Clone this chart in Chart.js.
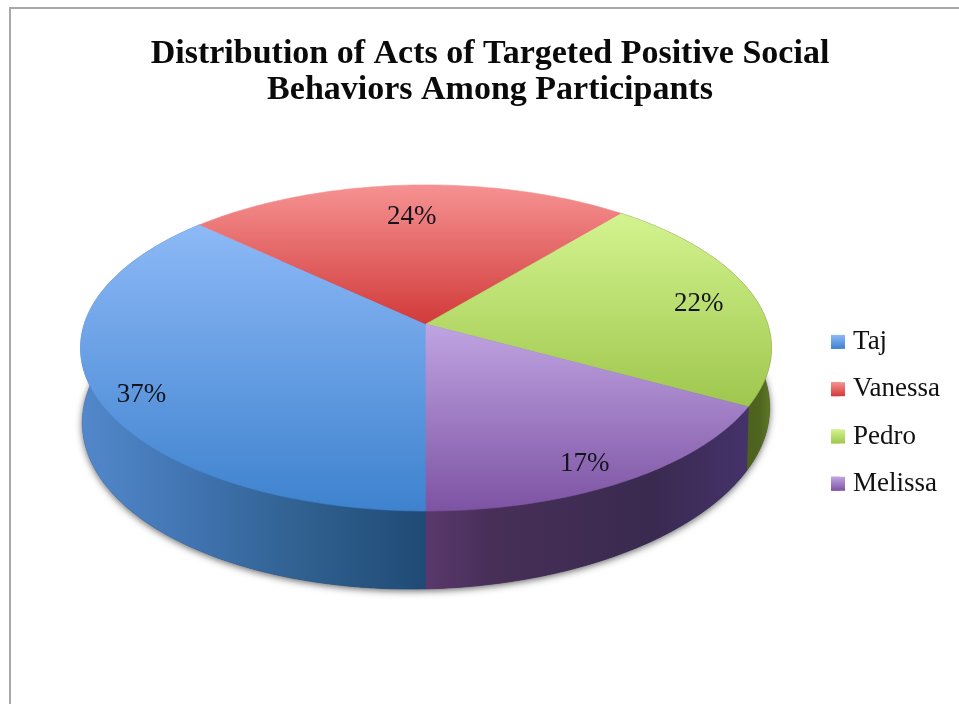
<!DOCTYPE html>
<html>
<head>
<meta charset="utf-8">
<style>
html,body{margin:0;padding:0;background:#fff;overflow:hidden}
#frame{position:absolute;left:9px;top:7px;width:960px;height:710px;border-top:2px solid #a9a9a9;border-left:2px solid #a9a9a9}
canvas{position:absolute;left:0;top:0}
</style>
<script src="https://cdn.jsdelivr.net/npm/chart.js@4"></script>
</head>
<body>
<div id="frame"></div>
<canvas id="c" width="959" height="704"></canvas>
<script>
const categories = ['Taj', 'Vanessa', 'Pedro', 'Melissa'];
const values = [37, 24, 22, 17];
const titleLines = ['Distribution of Acts of Targeted Positive Social', 'Behaviors Among Participants'];

const legendColors = ['#5b9ae2', '#e05a5a', '#b5dc6c', '#a182d0'];
const faceTop = ['#8db9f7', '#f69292', '#d3f38f', '#c0a4e2'];
const faceBottom = ['#3e82ce', '#d23a3a', '#9fc74d', '#7d53a3'];
const wallStops = [
  [[0, '#5288cb'], [0.35, '#3f72ae'], [0.65, '#30608f'], [1, '#1f4a75']],
  [[0, '#b04040'], [1, '#b04040']],
  [[0, '#4a5f1b'], [0.6, '#4f6520'], [1, '#5f7a26']],
  [[0, '#5a386c'], [0.2, '#472f58'], [0.7, '#3a2a50'], [1, '#44326a']]
];
const labelNudge = [[-4, 14], [2, 13], [-6, 5], [-7, 9]];

const topRim = {cx: 426, cy: 324, a: 341.7, b: 159.5, tilt: 0};
const baseRim = {cx: 426, cy: 389.6, a: 340, b: 170, tilt: 0.022};
const K = 0.147;
const LABEL_R = 0.85;
const SERIF = '"Liberation Serif", serif';

function project(theta, r, P) {
  const u = Math.cos(theta) * r, v = -Math.sin(theta) * r;
  const w = 1 + K * v;
  const x = P.cx + P.a * u / w;
  return [x, P.cy - P.b * v / w - P.tilt * (x - P.cx)];
}
function samples(a0, a1, P) {
  const pts = [], n = Math.max(8, Math.ceil((a1 - a0) * 60));
  for (let i = 0; i <= n; i++) pts.push(project(a0 + (a1 - a0) * i / n, 1, P));
  return pts;
}
function trace(ctx, pts) {
  pts.forEach((p, i) => i ? ctx.lineTo(p[0], p[1]) : ctx.moveTo(p[0], p[1]));
}
function trace2(ctx, pts) { pts.forEach(p => ctx.lineTo(p[0], p[1])); }

const pie3d = {
  id: 'pie3d',
  beforeDatasetDraw(chart, args) {
    const ctx = chart.ctx, arcs = args.meta.data;
    ctx.save();
    ctx.save();
    ctx.shadowColor = 'rgba(40,40,40,0.7)';
    ctx.shadowBlur = 7;
    ctx.shadowOffsetY = 2;
    ctx.fillStyle = '#3a2a50';
    ctx.beginPath();
    trace(ctx, samples(0, Math.PI * 2, baseRim));
    ctx.closePath();
    ctx.fill();
    ctx.restore();
    arcs.forEach((arc, i) => {
      if (i === 1) return;
      const top = samples(arc.startAngle, arc.endAngle, topRim);
      const base = samples(arc.startAngle, arc.endAngle, baseRim).reverse();
      const all = top.concat(base);
      const front = all.filter(p => p[1] > 340).map(p => p[0]);
      const g = ctx.createLinearGradient(Math.min(...front), 0, Math.max(...front), 0);
      wallStops[i].forEach(s => g.addColorStop(s[0], s[1]));
      ctx.fillStyle = g;
      ctx.strokeStyle = g;
      ctx.lineWidth = 0.6;
      ctx.beginPath();
      trace(ctx, all);
      ctx.closePath();
      ctx.fill();
      ctx.stroke();
    });
    arcs.forEach((arc, i) => {
      const rim = samples(arc.startAngle, arc.endAngle, topRim);
      const apex = project(0, 0, topRim);
      const ys = rim.map(p => p[1]).concat(apex[1]);
      const g = ctx.createLinearGradient(0, Math.min(...ys), 0, Math.max(...ys));
      g.addColorStop(0, faceTop[i]);
      g.addColorStop(1, faceBottom[i]);
      ctx.fillStyle = g;
      ctx.strokeStyle = g;
      ctx.lineWidth = 0.6;
      ctx.beginPath();
      ctx.moveTo(apex[0], apex[1]);
      trace2(ctx, rim);
      ctx.closePath();
      ctx.fill();
      ctx.stroke();
    });
    ctx.restore();
    return false;
  },
  afterDatasetsDraw(chart) {
    const ctx = chart.ctx, meta = chart.getDatasetMeta(0);
    ctx.save();
    ctx.font = '27px ' + SERIF;
    ctx.textAlign = 'center';
    ctx.textBaseline = 'middle';
    ctx.fillStyle = '#14141f';
    meta.data.forEach((arc, i) => {
      const p = project((arc.startAngle + arc.endAngle) / 2, LABEL_R, topRim);
      ctx.fillText(values[i] + '%', p[0] + labelNudge[i][0], p[1] + labelNudge[i][1]);
    });
    ctx.restore();
  },
  afterDraw(chart) {
    const ctx = chart.ctx;
    chart.legend.legendHitBoxes.forEach((hb, i) => {
      const y = hb.top + (hb.height - 14) / 2;
      const g = ctx.createLinearGradient(0, y, 0, y + 14);
      g.addColorStop(0, faceTop[i]);
      g.addColorStop(1, faceBottom[i]);
      ctx.fillStyle = g;
      ctx.fillRect(hb.left, y, 14, 14);
    });
  }
};

new Chart(document.getElementById('c'), {
  type: 'pie',
  data: {
    labels: categories,
    datasets: [{data: values, backgroundColor: legendColors, borderWidth: 0}]
  },
  options: {
    responsive: false,
    animation: false,
    devicePixelRatio: 1,
    rotation: 180,
    layout: {padding: {left: 30, right: 9, top: 0, bottom: 0}},
    plugins: {
      tooltip: {enabled: false},
      title: {
        display: true,
        text: titleLines,
        color: '#0a0a0a',
        align: 'center',
        font: {family: SERIF, size: 34, weight: 'bold', lineHeight: 1.06},
        padding: {top: 36, bottom: 200}
      },
      legend: {
        position: 'right',
        align: 'start',
        fullSize: false,
        labels: {
          font: {family: SERIF, size: 27},
          color: '#111',
          boxWidth: 8.5,
          boxHeight: 14,
          padding: 20.3
        }
      }
    }
  },
  plugins: [pie3d]
});
</script>
</body>
</html>
